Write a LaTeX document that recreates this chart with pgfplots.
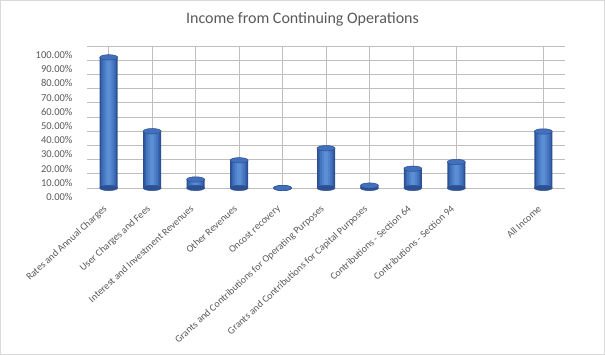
\documentclass[border=0pt]{standalone}
\usepackage{pgfplots}
\usepackage{pgfplotstable}
\pgfplotsset{compat=1.18}
\usepackage{fontspec}
\setmainfont{Carlito}
\definecolor{txt}{RGB}{89,89,89}
\definecolor{grid}{RGB}{217,217,217}
\definecolor{b1}{RGB}{44,80,145}
\definecolor{b2}{RGB}{56,100,172}
\definecolor{b3}{RGB}{68,116,192}
\definecolor{b4}{RGB}{80,130,204}
\definecolor{b5}{RGB}{92,142,212}
\definecolor{bartop}{RGB}{66,112,188}
\pgfplotstableread{
x y
0 92
1 40
2 6
3 19.5
4 0
5 28
6 1.7
7 13.6
8 18.3
10 39.8
}\data
\begin{document}
\begin{tikzpicture}
\path[use as bounding box] (0,0) rectangle (605pt,355pt);
\draw[grid, line width=0.8pt] (0.5pt,0.5pt) rectangle (604.5pt,354.5pt);
\node[txt, font=\fontsize{16}{18}\selectfont] at (302.5pt,336pt) {Income from Continuing Operations};
\begin{axis}[
  at={(87pt,167pt)}, anchor=south west,
  width=478pt, height=142pt, scale only axis,
  xmin=-0.5, xmax=10.5, ymin=0, ymax=100,
  axis line style={draw=none},
  major tick length=0pt,
  ytick={0,10,...,100},
  ymajorgrids, grid style={grid, line width=0.8pt},
  yticklabel={\pgfmathprintnumber[fixed,fixed zerofill,precision=2,assume math mode=true]{\tick}\%},
  yticklabel style={font=\fontsize{10.5}{12}\selectfont, text=txt, xshift=-11pt, yshift=-9pt},
  xtick={0,1,2,3,4,5,6,7,8,10},
  xticklabels={Rates and Annual Charges, User Charges and Fees, Interest and Investment Revenues, Other Revenues, Oncost recovery, Grants and Contributions for Operating Purposes, Grants and Contributions for Capital Purposes, Contributions - Section 64, Contributions - Section 94, All Income},
  xticklabel style={font=\fontsize{10}{12}\selectfont, text=txt, xshift=-6pt, yshift=-15pt, rotate=42.5, anchor=north east, inner sep=1pt},
  clip=false,
]
\addplot[only marks, mark=*, mark size=9pt, mark options={yscale=0.3, fill=b1, draw=b1}] table[x=x,y expr=0] {\data};
\addplot[ybar, bar width=18pt, draw=none, fill=b1] table[x=x,y=y] {\data};
\addplot[ybar, bar width=15pt, draw=none, fill=b2] table[x=x,y=y] {\data};
\addplot[ybar, bar width=12pt, draw=none, fill=b3] table[x=x,y=y] {\data};
\addplot[ybar, bar width=8pt, draw=none, fill=b4] table[x=x,y=y] {\data};
\addplot[ybar, bar width=4pt, draw=none, fill=b5] table[x=x,y=y] {\data};
\addplot[only marks, mark=*, mark size=9pt, mark options={yscale=0.3, fill=bartop, draw=b1, line width=0.5pt}] table[x=x,y=y] {\data};
\end{axis}
\end{tikzpicture}
\end{document}
